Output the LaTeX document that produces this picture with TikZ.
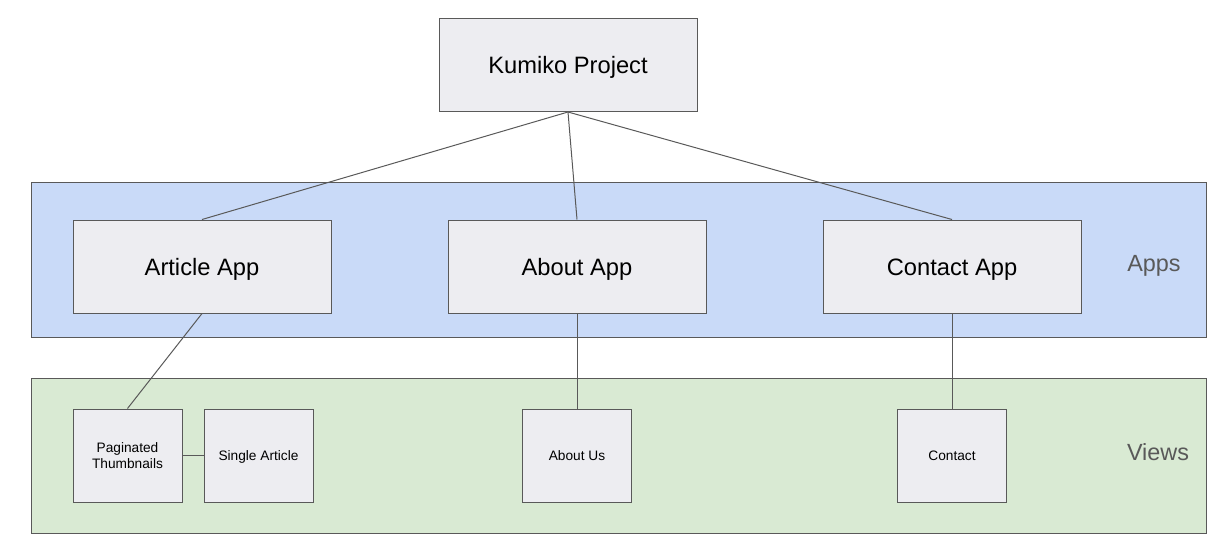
\documentclass[tikz,border=0pt]{standalone}
\usepackage{fontspec}
\setmainfont{Liberation Sans}
\definecolor{boxfill}{HTML}{EDEDF1}
\definecolor{edge}{HTML}{595959}
\definecolor{appsfill}{HTML}{C9DAF8}
\definecolor{viewsfill}{HTML}{D9EAD3}
\newcommand{\bltxt}[2]{\raisebox{#1}[0pt][0pt]{#2}}
\begin{document}
\begin{tikzpicture}[x=1pt,y=-1pt,
  band/.style={draw=edge, line width=1pt},
  bigbox/.style={draw=edge, fill=boxfill, line width=1pt, minimum width=258pt, minimum height=93pt, inner sep=0pt, font=\fontsize{23.7}{28}\selectfont},
  smallbox/.style={draw=edge, fill=boxfill, line width=1pt, minimum width=109pt, minimum height=93pt, inner sep=0pt, align=center, font=\fontsize{13.7}{16}\selectfont},
  bandlabel/.style={text=edge, inner sep=0pt, font=\fontsize{23.4}{28}\selectfont},
  conn/.style={draw=edge, line width=1pt}]
\useasboundingbox (0,0) rectangle (1219,558);
\filldraw[band, fill=appsfill] (31,182) rectangle (1206,337);
\filldraw[band, fill=viewsfill] (31,378) rectangle (1206,533);
\node[bigbox] (kumiko) at (568,65) {\bltxt{-8.5pt}{Kumiko Project}};
\node[bigbox] (article) at (202,266.5) {\bltxt{-8.5pt}{Article App}};
\node[bigbox] (about) at (577,266.5) {\bltxt{-8.5pt}{About App}};
\node[bigbox] (contact) at (952,266.5) {\bltxt{-8.5pt}{Contact App}};
\node[smallbox] (pag) at (127.5,455.5) {\bltxt{3pt}{\begin{tabular}[t]{@{}c@{}}Paginated\\Thumbnails\end{tabular}}};
\node[smallbox] (single) at (258.5,455.5) {\bltxt{-5pt}{Single Article}};
\node[smallbox] (aboutus) at (577,455.5) {\bltxt{-5pt}{About Us}};
\node[smallbox] (contactv) at (952,455.5) {\bltxt{-5pt}{Contact}};
\node[bandlabel] (apps) at (1154,263) {\bltxt{-8.4pt}{Apps}};
\node[bandlabel] (views) at (1158,452) {\bltxt{-8.4pt}{Views}};
\draw[conn] (kumiko.south) -- (article.north);
\draw[conn] (kumiko.south) -- (about.north);
\draw[conn] (kumiko.south) -- (contact.north);
\draw[conn] (article.south) -- (pag.north);
\draw[conn] (about.south) -- (aboutus.north);
\draw[conn] (contact.south) -- (contactv.north);
\draw[conn] (pag.east) -- (single.west);
\end{tikzpicture}
\end{document}
